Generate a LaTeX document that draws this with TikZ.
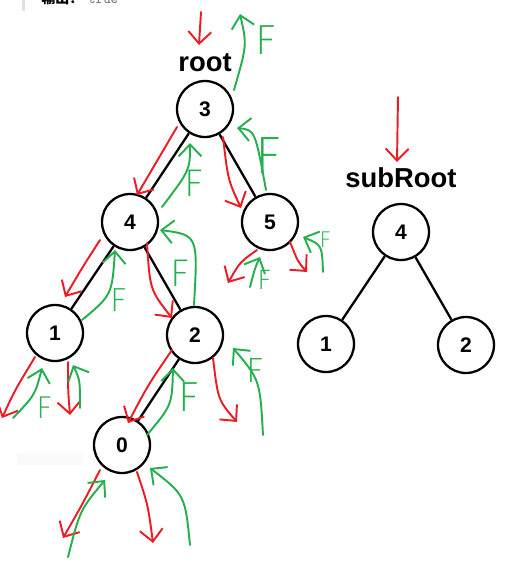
\documentclass[tikz,border=0pt]{standalone}
\usepackage{fontspec}
\newfontfamily\arialf{Liberation Sans}
\newfontfamily\cjk{Noto Sans CJK SC}
\IfFontExistsTF{Fira Sans ExtraLight}{\newfontfamily\penf{Fira Sans ExtraLight}}{%
  \IfFontExistsTF{Fira Sans Light}{\newfontfamily\penf{Fira Sans Light}}{%
    \IfFontExistsTF{Lato Light}{\newfontfamily\penf{Lato Light}}{%
      \newcommand\penf{\sffamily}}}}
\usetikzlibrary{arrows.meta}
\definecolor{penred}{HTML}{ED1C24}
\definecolor{pengreen}{HTML}{22B14C}
\tikzset{
  tnode/.style={circle,draw,line width=1.3pt,minimum size=1.12cm,inner sep=0pt,font=\arialf\bfseries\fontsize{12}{12}\selectfont},
  tedge/.style={line width=1.3pt},
  lbl/.style={inner sep=0pt,font=\arialf\bfseries\fontsize{15.6}{16}\selectfont},
  redpath/.style={draw=penred,line width=1.1pt,line cap=round,-{Straight Barb[length=2.4mm,width=4.6mm]}},
  greenpath/.style={draw=pengreen,line width=1.1pt,line cap=round,-{Straight Barb[length=2.4mm,width=4.6mm]}},
  fmark/.style={text=pengreen,inner sep=0pt,font=\penf\fontsize{#1}{#1}\selectfont}
}

\begin{document}
\begin{tikzpicture}[x=0.02cm,y=-0.02cm]
\useasboundingbox (0,0) rectangle (510,566);
% cut-off output line at the top
\fill[black!12] (22,0) rectangle (25,11);
\node[anchor=base west,inner sep=0pt,font=\cjk\bfseries\fontsize{8}{8}\selectfont] (outlbl) at (41,3) {输出：};
\node[anchor=base west,inner sep=0pt,text=black!55,font=\ttfamily\fontsize{8}{8}\selectfont] (outval) at (88,3) {true};
\fill[black!2] (17,453) rectangle (83,465);

% tree root
\node[tnode] (r3) at (205,109) {3};
\node[tnode] (r4) at (130,222) {4};
\node[tnode] (r5) at (270,222) {5};
\node[tnode] (r1) at (55,333) {1};
\node[tnode] (r2) at (195,335) {2};
\node[tnode] (r0) at (122,445) {0};
\node[lbl] (rootlbl) at (205,63) {root};
\draw[tedge] (r3) -- (r4); \draw[tedge] (r3) -- (r5);
\draw[tedge] (r4) -- (r1); \draw[tedge] (r4) -- (r2);
\draw[tedge] (r2) -- (r0);

% tree subRoot
\node[tnode] (s4) at (401,232) {4};
\node[tnode] (s1) at (326,344) {1};
\node[tnode] (s2) at (466,345) {2};
\node[lbl] (sublbl) at (401,178) {subRoot};
\draw[tedge] (s4) -- (s1); \draw[tedge] (s4) -- (s2);

% red: going down
\draw[redpath] (201,12) -- (199,45);
\draw[redpath] (177,127) .. controls (158,160) .. (137,195);
\draw[redpath] (223,137) .. controls (228,180) .. (241,208);
\draw[redpath] (100,240) .. controls (82,268) .. (65,297);
\draw[redpath] (147,243) .. controls (150,290) .. (172,318);
\draw[redpath] (257,250) .. controls (240,262) .. (228,283);
\draw[redpath] (290,242) .. controls (298,262) .. (307,272);
\draw[redpath] (35,357) .. controls (15,390) .. (2,418);
\draw[redpath] (68,362) .. controls (68,390) .. (70,415);
\draw[redpath] (172,350) .. controls (148,385) .. (128,423);
\draw[redpath] (213,358) .. controls (218,400) .. (237,422);
\draw[redpath] (100,470) .. controls (82,505) .. (63,538);
\draw[redpath] (137,472) .. controls (148,505) .. (153,543);
\draw[redpath] (398,97) -- (397,162);

% green: coming back
\draw[greenpath] (234,90) .. controls (247,45) .. (240,14);
\draw[greenpath] (162,207) .. controls (190,170) .. (190,143);
\draw[greenpath] (266,190) .. controls (255,130) .. (237,128);
\draw[greenpath] (82,320) .. controls (112,295) .. (115,250);
\draw[greenpath] (194,305) .. controls (198,235) .. (160,230);
\draw[greenpath] (250,287) .. controls (255,268) .. (260,257);
\draw[greenpath] (323,272) .. controls (322,245) .. (303,237);
\draw[greenpath] (13,418) .. controls (35,395) .. (42,368);
\draw[greenpath] (80,408) .. controls (80,380) .. (73,365);
\draw[greenpath] (147,435) .. controls (172,405) .. (173,368);
\draw[greenpath] (263,435) .. controls (260,380) .. (233,348);
\draw[greenpath] (68,557) .. controls (80,510) .. (105,480);
\draw[greenpath] (190,545) .. controls (185,495) .. (150,468);

% F marks
\node[fmark=24] (f1) at (266,40) {F};
\node[fmark=22] (f2) at (194,183) {F};
\node[fmark=30] (f3) at (268,155) {F};
\node[fmark=19] (f4) at (118,300) {F};
\node[fmark=22] (f5) at (180,273) {F};
\node[fmark=16] (f6) at (264,280) {F};
\node[fmark=13] (f7) at (325,240) {F};
\node[fmark=18] (f8) at (44,408) {F};
\node[fmark=24] (f9) at (189,397) {F};
\node[fmark=20] (f10) at (255,370) {F};
\end{tikzpicture}
\end{document}
